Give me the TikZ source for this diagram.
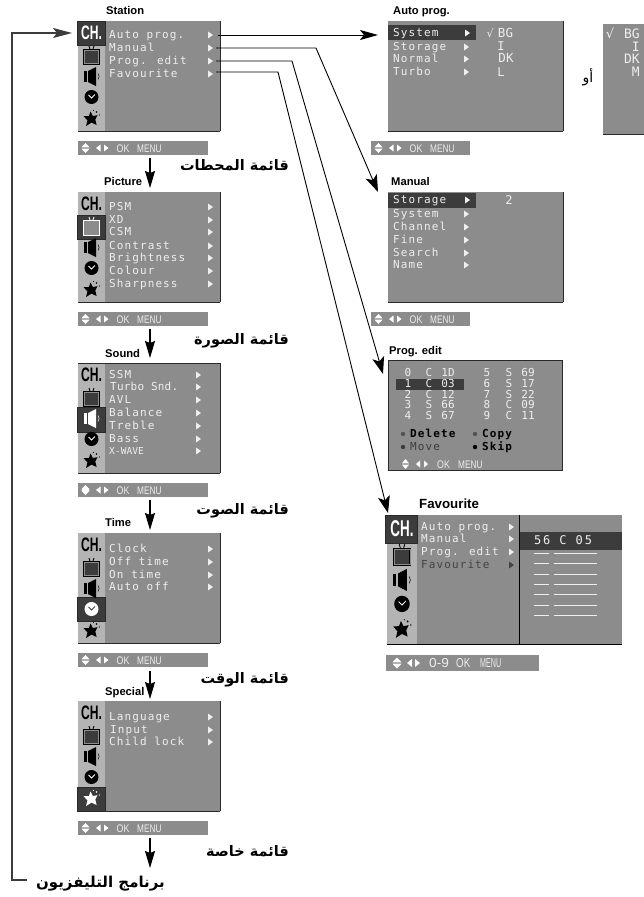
\documentclass[tikz,border=0pt]{standalone}
\usepackage{fontspec}
\usetikzlibrary{arrows.meta}
\setmainfont{Liberation Sans}
\newfontfamily\menufont[LetterSpace=10]{DejaVu Sans Mono}
\newfontfamily\menufontn[LetterSpace=2]{DejaVu Sans Mono}
\newfontfamily\menufontw[LetterSpace=15]{DejaVu Sans Mono}
\newfontfamily\plainmono{DejaVu Sans Mono}
\newfontfamily\arabicfont[Script=Arabic]{DejaVu Sans}
\TeXXeTstate=1
\definecolor{bandgray}{HTML}{8C8C8C}
\definecolor{sidegray}{HTML}{B4B4B4}
\definecolor{hl}{HTML}{3C3C3C}
\definecolor{itemcol}{HTML}{EEEEEE}
\definecolor{edgecol}{HTML}{2A2A2A}
\tikzset{
  panelbox/.style={fill=bandgray,draw=none,inner sep=0pt,anchor=north west},
  itemtext/.style={font=\menufont\fontsize{11}{11}\selectfont,text=itemcol,inner sep=0pt,anchor=mid west,yshift=-1pt},
  monotext/.style={font=\plainmono\fontsize{11}{11}\selectfont,text=itemcol,inner sep=0pt,anchor=mid,yshift=-1pt},
  blacktext/.style={font=\menufont\bfseries\fontsize{11}{11}\selectfont,text=black,inner sep=0pt,anchor=mid west,yshift=-1pt},
  titletext/.style={font=\bfseries\fontsize{11.2}{11.2}\selectfont,inner sep=0pt,anchor=mid west,yshift=-1.5pt},
  arabictext/.style={font=\arabicfont\bfseries\fontsize{14.5}{15}\selectfont,inner sep=0pt,anchor=mid east,yshift=-3pt},
  hinttext/.style={text=itemcol,inner sep=0pt,anchor=mid west,yshift=-1.5pt},
  conn/.style={line width=1pt,draw=black,-{Stealth[length=18pt,width=10pt,inset=4pt]}},
  slant/.style={line width=.9pt,draw=black,-{Stealth[length=17pt,width=12pt,inset=4pt]}},
  downarrow/.style={line width=1.1pt,draw=black,-{Stealth[length=17pt,width=10pt,inset=2pt]}},
}
\newcommand\itemtri[3][itemcol]{\fill[#1] (#2,#3-3.5) -- (#2+5,#3) -- (#2,#3+3.5) -- cycle;}
\newcommand\setfg[2]{\ifnum#1=#2\def\fgc{white}\def\inc{bandgray}\else\def\fgc{black}\def\inc{hl}\fi}
\newcommand\sideicons[6]{% name,x,y,xscale,yscale,selected
 \begin{scope}[shift={(#2,#3)},xscale=#4,yscale=#5]
  \node[fill=sidegray,inner sep=0pt,minimum width=#4*27pt,minimum height=#5*110pt,anchor=north west] (#1side) at (0,0) {};
  \ifcase#6\or
   \fill[hl] (-1,0) rectangle (27,24); \draw[edgecol,line width=.8pt] (-1,0) rectangle (27,24);\or
   \fill[hl] (-1,23) rectangle (27,47); \draw[edgecol,line width=.8pt] (-1,23) rectangle (27,47);\or
   \fill[hl] (-1,44) rectangle (27,69); \draw[edgecol,line width=.8pt] (-1,44) rectangle (27,69);\or
   \fill[hl] (-1,64) rectangle (27,88); \draw[edgecol,line width=.8pt] (-1,64) rectangle (27,88);\or
   \fill[hl] (-1,86) rectangle (27,110); \draw[edgecol,line width=.8pt] (-1,86) rectangle (27,110);
  \fi
  \setfg{#6}{1}
  \node[inner sep=0pt,text=\fgc] (#1ch) at (13.5,12) {\scalebox{#4}[#5]{\scalebox{.62}[1]{\bfseries\fontsize{19.5}{20}\selectfont CH.}}};
  \setfg{#6}{2}
  \draw[\fgc,line width=.9pt] (11,25) -- (12,28) (16,25) -- (15,28);
  \fill[\fgc] (5,28) rectangle (22,44);
  \draw[bandgray,line width=.5pt] (6.5,29.5) rectangle (20.5,42.5);
  \fill[\inc] (7.3,30.3) rectangle (19.7,41.7);
  \setfg{#6}{3}
  \fill[\fgc] (5.5,50) rectangle (8.5,61);
  \fill[\fgc] (10,50) -- (18,46) -- (18,65) -- (10,61) -- cycle;
  \draw[\fgc,line width=.5pt] (20,52.5) .. controls (21.5,54) and (21.5,57) .. (20,58.5);
  \setfg{#6}{4}
  \fill[\fgc] (13.5,76) ellipse (7 and 7);
  \ifnum#6=4 \draw[hl,line width=.8pt] (10.5,74) -- (13.5,77) -- (17,73.5);
  \else \draw[white,line width=.8pt] (10.5,74) -- (13.5,77) -- (17,73.5);\fi
  \setfg{#6}{5}
  \fill[\fgc] (12.5,90.5) -- (14.8,95) -- (19.5,94.2) -- (17.3,98.5) -- (18.6,104) -- (13.5,101.6) -- (8,105) -- (9.4,99.4) -- (5.6,95.2) -- (10.9,95) -- cycle;
  \fill[\fgc] (18.5,91) circle (.9) (21.5,94) circle (.7) (15.5,89.5) circle (.6);
 \end{scope}}
\newcommand\mainmenu[3]{% name,top y,selected
 \node[panelbox,minimum width=142pt,minimum height=110pt] (#1) at (78,#2) {};
 \sideicons{#1}{78}{#2}{1}{1}{#3}
 \draw[edgecol,line width=1pt] (#1.north east) -- (#1.south east);
 \draw[edgecol,line width=1.6pt] (#1.south west) -- (#1.south east);}
\newcommand\hintbar[4]{% name,x,y,width
 \node[panelbox,minimum width=#4pt,minimum height=14pt] (#1) at (#2,#3) {};
 \fill[white] (#2+3.5,#3+6.3) -- (#2+7.5,#3+2) -- (#2+11.5,#3+6.3) -- cycle;
 \fill[white] (#2+3.5,#3+7.7) -- (#2+7.5,#3+12) -- (#2+11.5,#3+7.7) -- cycle;
 \fill[white] (#2+22.5,#3+3.5) -- (#2+18,#3+7) -- (#2+22.5,#3+10.5) -- cycle;
 \fill[white] (#2+26,#3+3.5) -- (#2+30.5,#3+7) -- (#2+26,#3+10.5) -- cycle;
 \node[hinttext] (#1ok) at (#2+38.5,#3+7) {\scalebox{.8}[1]{\fontsize{11}{11}\selectfont OK}};
 \node[hinttext] (#1mn) at (#2+59,#3+7) {\scalebox{.75}[1]{\fontsize{11}{11}\selectfont MENU}};}
\begin{document}
\begin{tikzpicture}[x=1pt,y=-1pt]
\useasboundingbox (0,0) rectangle (644,897);
\fill[white] (0,0) rectangle (644,897);

% ---------- Station
\node[titletext] (tStation) at (106,10) {Station};
\mainmenu{station}{21}{1}
\foreach \t/\y [count=\i] in {Auto prog./35,Manual/48,Prog. edit/61,Favourite/74}{
 \node[itemtext] (st\i) at (109,\y) {\t}; \itemtri{208}{\y}}
\hintbar{hintA}{78}{141}{130}
\node[arabictext] (arA) at (289,165) {\beginR قائمة المحطات\endR};

% ---------- Picture
\node[titletext] (tPicture) at (104,181) {Picture};
\mainmenu{picture}{192}{2}
\foreach \t/\y [count=\i] in {PSM/207,XD/220,CSM/232,Contrast/246,Brightness/258,Colour/271,Sharpness/284}{
 \node[itemtext] (pc\i) at (109,\y) {\t}; \itemtri{208}{\y}}
\hintbar{hintB}{78}{312}{130}
\node[arabictext] (arB) at (289,339) {\beginR قائمة الصورة\endR};

% ---------- Sound
\node[titletext] (tSound) at (105,353) {Sound};
\mainmenu{sound}{363}{3}
\draw[edgecol,line width=.8pt] (sound.north west) -- (sound.north east);
\foreach \t/\y [count=\i] in {SSM/375,AVL/400,Balance/413,Treble/426,Bass/439}{
 \node[itemtext] (sn\i) at (109,\y) {\t}; \itemtri{196}{\y}}
\node[itemtext,font=\menufontn\fontsize{11}{11}\selectfont] (sn6) at (110,387) {Turbo Snd.};\itemtri{196}{387}
\node[itemtext,font=\plainmono\fontsize{9.6}{10}\selectfont] (sn7) at (109,451) {X-WAVE};\itemtri{196}{451}
\hintbar{hintC}{78}{483}{130}
\fill[white] (81.5,490) -- (85.5,485) -- (89.5,490) -- (85.5,495) -- cycle;
\node[arabictext] (arC) at (289,509) {\beginR قائمة الصوت\endR};

% ---------- Time
\node[titletext] (tTime) at (105,522) {Time};
\mainmenu{timepanel}{533}{4}
\foreach \t/\y [count=\i] in {Clock/549,Off time/562,On time/575,Auto off/587}{
 \node[itemtext] (tm\i) at (109,\y) {\t}; \itemtri{208}{\y}}
\hintbar{hintD}{78}{653}{130}
\node[arabictext] (arD) at (289,678) {\beginR قائمة الوقت\endR};

% ---------- Special
\node[titletext] (tSpecial) at (105,691) {Special};
\mainmenu{special}{701}{5}
\foreach \t/\y/\xx [count=\i] in {Language/717/109,Input/730/110,Child lock/742/109}{
 \node[itemtext] (sp\i) at (\xx,\y) {\t}; \itemtri{208}{\y}}
\hintbar{hintE}{78}{821}{130}
\node[arabictext] (arE) at (289,851) {\beginR قائمة خاصة\endR};
\node[arabictext,font=\arabicfont\bfseries\fontsize{15}{16}\selectfont] (arF) at (165,882) {\beginR برنامج التليفزيون\endR};

% ---------- Auto prog
\node[titletext] (tAuto) at (393,10) {Auto prog.};
\node[panelbox,minimum width=175pt,minimum height=110pt] (auto) at (388,21) {};
\draw[edgecol,line width=1pt] (auto.north east) -- (auto.south east);
\draw[edgecol,line width=1.6pt] (auto.south west) -- (auto.south east);
\node[fill=hl,inner sep=0pt,minimum width=88pt,minimum height=15pt,anchor=north west] (autoHL) at (388,25) {};
\foreach \t/\y/\a [count=\i] in {System/33/465,Storage/47/464,Normal/59/464,Turbo/72/464}{
 \node[itemtext] (au\i) at (393,\y) {\t}; \itemtri{\a}{\y}}
\node[monotext,font=\arabicfont\fontsize{11}{11}\selectfont] (auChk) at (490,34) {√};
\node[monotext,font=\plainmono\fontsize{12.5}{12}\selectfont] (au5) at (505.5,34) {BG};
\node[monotext,font=\plainmono\fontsize{12}{12}\selectfont] (au6) at (501,47) {I};
\node[monotext,font=\plainmono\fontsize{12.5}{12}\selectfont] (au7) at (506,59) {DK};
\node[monotext,font=\plainmono\fontsize{12}{12}\selectfont] (au8) at (501,73) {L};
\hintbar{hintF}{371}{141}{99}

% ---------- partly cut menu
\node[panelbox,minimum width=41pt,minimum height=110pt] (extra) at (603,24) {};
\draw[edgecol,line width=1.6pt] (extra.south west) -- (extra.south east);
\node[monotext,font=\arabicfont\fontsize{13}{13}\selectfont] (exChk) at (610,35) {√};
\foreach \t/\y [count=\i] in {BG/35,I/48,DK/60,M/73}{
 \node[monotext,font=\plainmono\fontsize{13}{13}\selectfont,anchor=mid east] (ex\i) at (640,\y) {\t};}
\node[inner sep=0pt,font=\arabicfont\fontsize{14}{14}\selectfont] (orWord) at (588,77) {\beginR أو\endR};

% ---------- Manual
\node[titletext] (tManual) at (391,181) {Manual};
\node[panelbox,minimum width=175pt,minimum height=110pt] (manual) at (388,192) {};
\draw[edgecol,line width=1pt] (manual.north east) -- (manual.south east);
\draw[edgecol,line width=1.6pt] (manual.south west) -- (manual.south east);
\node[fill=hl,inner sep=0pt,minimum width=88pt,minimum height=15pt,anchor=north west] (manualHL) at (388,193) {};
\foreach \t/\y/\a [count=\i] in {Storage/200/465,System/214/464,Channel/227/464,Fine/240/464,Search/253/464,Name/265/464}{
 \node[itemtext] (ma\i) at (393,\y) {\t}; \itemtri{\a}{\y}}
\node[monotext,font=\plainmono\fontsize{12}{12}\selectfont] (ma7) at (509,201) {2};
\hintbar{hintG}{371}{312}{99}

% ---------- Prog. edit
\node[titletext] (tProg) at (389,350) {Prog. edit};
\node[panelbox,minimum width=174pt,minimum height=110pt,draw=edgecol,line width=.9pt] (prog) at (388,360) {};
\node[fill=hl,inner sep=0pt,minimum width=68pt,minimum height=11pt,anchor=north west] (progHL) at (396,379) {};
\foreach \a/\b/\c/\y [count=\i] in {0/C/1D/373,1/C/03/384,2/C/12/395,3/S/66/405,4/S/67/416}{
 \node[monotext] (pa\i) at (408,\y) {\a};
 \node[monotext] (pb\i) at (429,\y) {\b};
 \node[monotext] (pd\i) at (448,\y) {\c};}
\foreach \a/\b/\c/\y [count=\i] in {5/S/69/373,6/S/17/384,7/S/22/395,8/C/09/405,9/C/11/416}{
 \node[monotext] (qa\i) at (487,\y) {\a};
 \node[monotext] (qb\i) at (509,\y) {\b};
 \node[monotext] (qd\i) at (528,\y) {\c};}
\fill[hl!70!bandgray] (403,434) circle (2.2);
\fill[hl!70!bandgray] (475,434) circle (2.2);
\fill[hl] (403,447) circle (2.2);
\fill[black] (475,447) circle (2.2);
\node[blacktext] (pe1) at (410,434) {Delete};
\node[blacktext] (pe2) at (482,434) {Copy};
\node[blacktext,text=hl,font=\menufont\fontsize{11}{11}\selectfont] (pe3) at (410,447) {Move};
\node[blacktext] (pe4) at (482,447) {Skip};
\fill[white] (402,463.3) -- (405.5,459) -- (409,463.3) -- cycle;
\fill[white] (402,464.7) -- (405.5,469) -- (409,464.7) -- cycle;
\fill[white] (420,460.5) -- (416,464) -- (420,467.5) -- cycle;
\fill[white] (424,460.5) -- (428,464) -- (424,467.5) -- cycle;
\node[hinttext] (peOk) at (437,464) {\scalebox{.8}[1]{\fontsize{11}{11}\selectfont OK}};
\node[hinttext] (peMn) at (458,464) {\scalebox{.75}[1]{\fontsize{11}{11}\selectfont MENU}};

% ---------- Favourite
\node[titletext,font=\bfseries\fontsize{13.3}{13}\selectfont] (tFav) at (419,504) {Favourite};
\node[panelbox,minimum width=235pt,minimum height=129pt] (fav) at (387,515) {};
\sideicons{fav}{387}{515}{1.11}{1.17}{1}
\draw[black,line width=1.6pt] (fav.south west) -- (fav.south east);
\draw[black,line width=1pt] (519,515) -- (519,644);
\node[fill=hl,inner sep=0pt,minimum width=102pt,minimum height=18pt,anchor=north west] (favHL) at (520,532) {};
\foreach \t/\y [count=\i] in {Auto prog./527,Manual/539,Prog. edit/552}{
 \node[itemtext] (fa\i) at (421,\y) {\t}; \itemtri{509}{\y}}
\node[itemtext,text=hl!90!bandgray] (fa4) at (421,565) {Favourite}; \itemtri[hl!90!bandgray]{509}{565}
\node[itemtext,font=\menufontw\fontsize{12}{12}\selectfont] (fa5) at (534,541) {56 C 05};
\foreach \y in {553,563,574,584,594,605,615}{
 \draw[itemcol,line width=.9pt] (534,\y) -- (549,\y) (554,\y) -- (597,\y);}
\node[panelbox,minimum width=153pt,minimum height=16pt] (hintH) at (386,655) {};
\fill[white] (392.5,662.3) -- (397,657.5) -- (401.5,662.3) -- cycle;
\fill[white] (392.5,663.7) -- (397,668.5) -- (401.5,663.7) -- cycle;
\fill[white] (412,659) -- (407,663) -- (412,667) -- cycle;
\fill[white] (415,659) -- (420,663) -- (415,667) -- cycle;
\node[hinttext] (hH1) at (429,663) {\scalebox{1.05}[1]{\fontsize{13}{13}\selectfont 0-9}};
\node[hinttext] (hH2) at (456,663) {\scalebox{.75}[1]{\fontsize{13}{13}\selectfont OK}};
\node[hinttext] (hH3) at (480,663) {\scalebox{.55}[1]{\fontsize{13}{13}\selectfont MENU}};

% ---------- connectors
\coordinate (dA) at (150,158); \coordinate (dAe) at (150,188);
\coordinate (dB) at (150,329); \coordinate (dBe) at (150,358);
\coordinate (dC) at (150,500); \coordinate (dCe) at (150,530);
\coordinate (dD) at (150,671); \coordinate (dDe) at (150,699);
\coordinate (dE) at (150,838); \coordinate (dEe) at (150,868);
\draw[downarrow] (dA) -- (dAe);
\draw[downarrow] (dB) -- (dBe);
\draw[downarrow] (dC) -- (dCe);
\draw[downarrow] (dD) -- (dDe);
\draw[downarrow] (dE) -- (dEe);

\coordinate (loopStart) at (27,880);
\coordinate (loopLow) at (12,880);
\coordinate (loopHigh) at (12,33);
\coordinate (loopEnd) at (72,33);
\draw[conn,draw=hl,line width=1.3pt,-{Stealth[length=19pt,width=10pt,inset=4pt]}] (loopStart) -- (loopLow) -- (loopHigh) -- (loopEnd);

\coordinate (s1) at (218,35); \coordinate (s1e) at (378,35);
\draw[conn] (s1) -- (s1e);
\coordinate (s2) at (216,48); \coordinate (s2b) at (316,48); \coordinate (s2e) at (378,192);
\draw[slant] (s2) -- (s2b) -- (s2e);
\coordinate (s3) at (216,61); \coordinate (s3b) at (292,61); \coordinate (s3e) at (383,374);
\draw[slant] (s3) -- (s3b) -- (s3e);
\coordinate (s4) at (216,72); \coordinate (s4b) at (278,72); \coordinate (s4e) at (388,513);
\draw[slant] (s4) -- (s4b) -- (s4e);
\end{tikzpicture}
\end{document}
